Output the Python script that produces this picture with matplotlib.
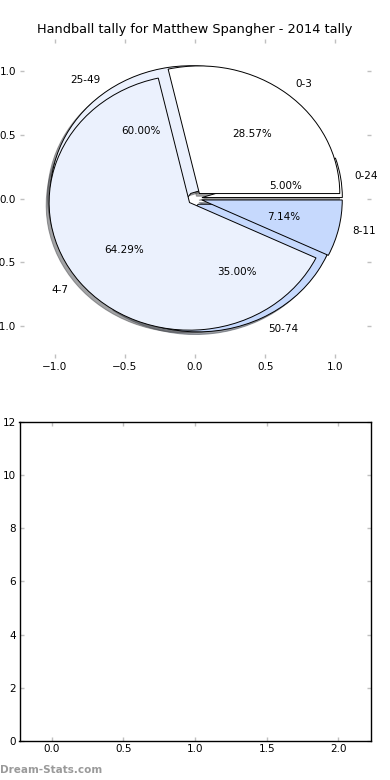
import matplotlib
matplotlib.use("Agg")
import matplotlib.pyplot as plt

# Data
title = "Handball tally for Matthew Spangher - 2014 tally"
outer_labels = ["0-24", "25-49", "50-74"]
outer_values = [1, 12, 7]
inner_labels = ["0-3", "4-7", "8-11"]
inner_values = [4, 9, 1]
colors = ["white", "#ebf1fd", "#c6d9fd"]
pie_ticks = [-1.0, -0.5, 0.0, 0.5, 1.0]
bottom_xticks = [0.0, 0.5, 1.0, 1.5, 2.0]
bottom_yticks = [0, 2, 4, 6, 8, 10, 12]

plt.rcParams['font.family'] = ['DejaVu Sans']
fig = plt.figure(figsize=(3.9, 7.8), dpi=100)
fig.subplots_adjust(left=0.05, right=0.95, bottom=0.05, top=0.95, hspace=0.2)
ax1 = fig.add_subplot(2, 1, 1)
ax2 = fig.add_subplot(2, 1, 2)

wp = dict(edgecolor="black", linewidth=0.7)
tp = dict(fontsize=7.5)
ax1.pie(outer_values, labels=outer_labels, colors=colors, explode=[0.05] * 3,
        autopct="%1.2f%%", shadow=dict(ox=-0.015, oy=-0.015), startangle=0,
        wedgeprops=wp, textprops=tp)
ax1.pie(inner_values, labels=inner_labels, colors=colors, explode=[0.05] * 3,
        autopct="%1.2f%%", shadow=dict(ox=-0.015, oy=-0.015), startangle=0,
        wedgeprops=wp, textprops=tp)
ax1.set_aspect("auto")
ax1.set_xlim(-1.25, 1.25)
ax1.set_ylim(-1.25, 1.25)
ax1.set_xticks(pie_ticks)
ax1.set_yticks(pie_ticks)
ax1.set_frame_on(False)
ax1.set_title(title, fontsize=9.3, pad=4)

for ax in (ax1, ax2):
    ax.tick_params(direction="in", length=3, width=1, color="#c0c0c0",
                   labelcolor="black", labelsize=7.5, top=True, right=True, pad=2.5)

ax2.set_xlim(-0.225, 2.225)
ax2.set_ylim(0, 12)
ax2.set_xticks(bottom_xticks)
ax2.set_yticks(bottom_yticks)
for s in ax2.spines.values():
    s.set_linewidth(1.0)
    s.set_color("black")

fig.text(0.0, 0.007, "Dream-Stats.com", color="#9a9a9a", fontsize=7.5, fontweight="bold",
         ha="left", va="bottom")

fig.savefig("out.png", dpi=100)
